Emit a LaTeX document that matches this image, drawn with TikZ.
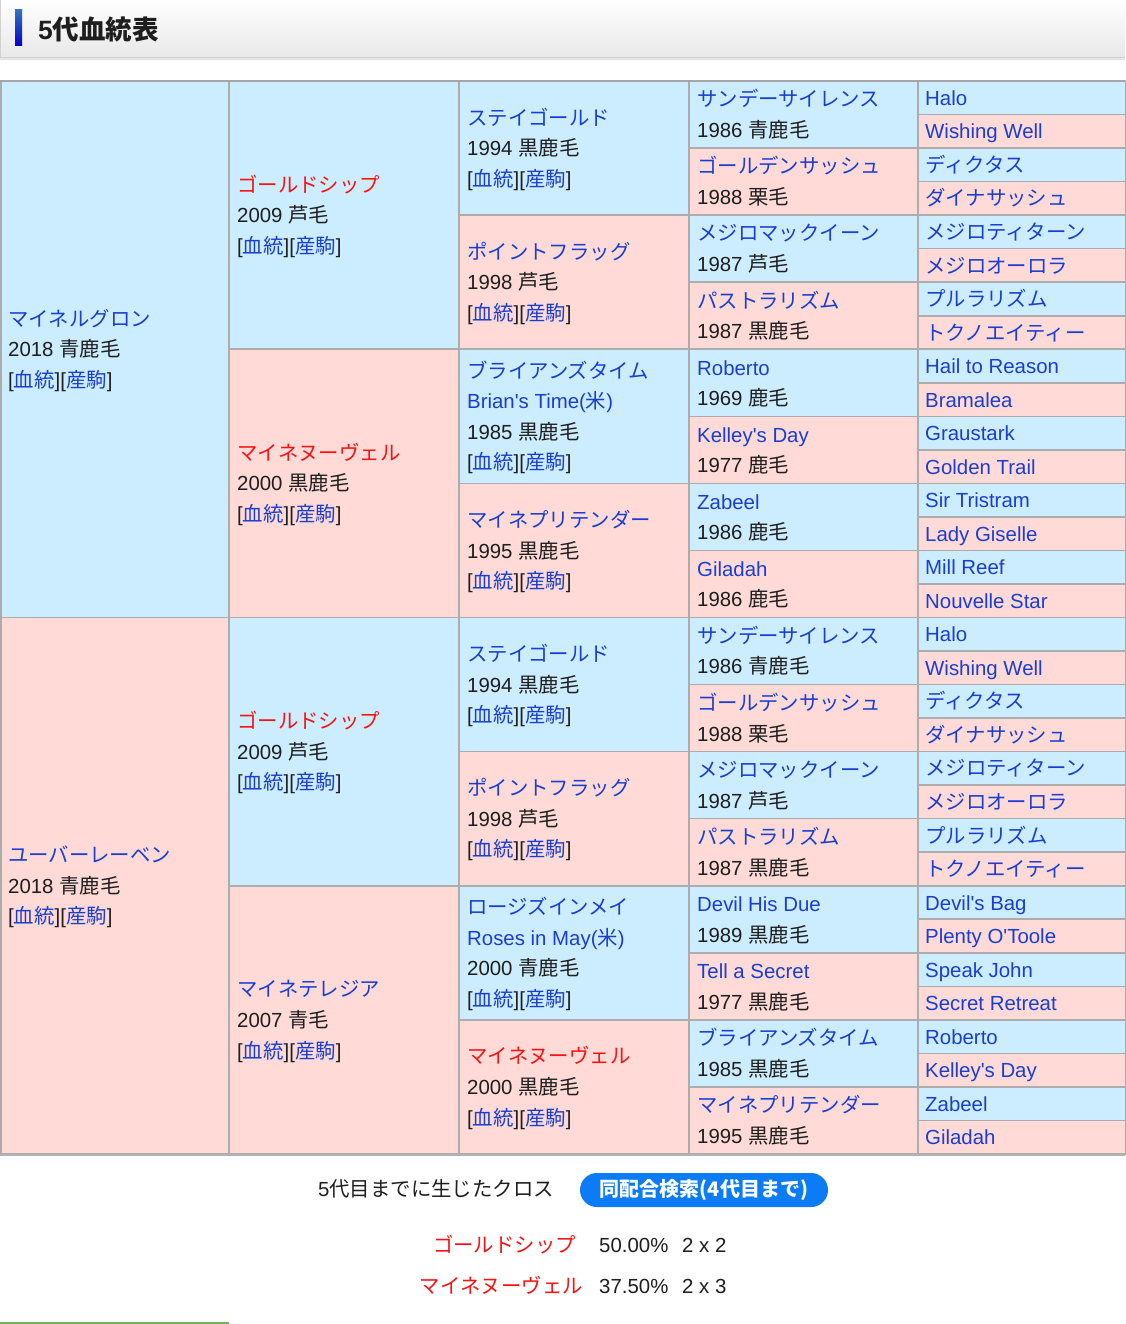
\documentclass[tikz,border=0pt]{standalone}
\usepackage{fontspec}
\setmainfont{Liberation Sans}[Ligatures=TeXOff]
\newfontfamily\jp{Noto Sans CJK JP}
\usetikzlibrary{calc}
\definecolor{cell0}{RGB}{204,237,255}
\definecolor{cell1}{RGB}{255,218,214}
\definecolor{bord}{RGB}{172,172,172}
\definecolor{lnk}{RGB}{26,62,210}
\definecolor{rd}{RGB}{250,18,18}
\definecolor{txtc}{RGB}{30,30,30}
\definecolor{btn}{RGB}{12,124,246}
\definecolor{grn}{RGB}{112,176,92}
\newcommand\nm[1]{\textcolor{lnk}{\jp #1}}
\newcommand\en[1]{\textcolor{lnk}{#1}}
\newcommand\rn[1]{\textcolor{rd}{\jp #1}}
\newcommand\yr[2]{#1 {\jp #2}}
\newcommand\links{[\textcolor{lnk}{\jp 血統}][\textcolor{lnk}{\jp 産駒}]}
\newcommand\horse[4]{%
  \pgfmathsetmacro\hh{1073/2^#1}%
  \pgfmathsetmacro\yc{81+(#2+0.5)*\hh}%
  \pgfmathsetmacro\hx{{8,237,467,697,925}[#1-1]}%
  \foreach \t [count=\i] in {#4}{%
    \node[txt,anchor=base west] (h#1-#2-\i) at (\hx,{\yc+(\i-(#3+1)/2)*30.6+7.6}) {\t};
  }%
}
\begin{document}
\begin{tikzpicture}[x=1pt,y=-1pt,
  txt/.style={inner sep=0pt,text=txtc,font=\fontsize{20.4}{24}\selectfont}]
\useasboundingbox (0,0) rectangle (1125,1324);
\fill[white] (0,0) rectangle (1125,1324);
% header
\shade[top color=white,bottom color=black!9] (0,-1) rectangle (1125,57);
\draw[black!18,line width=1] (0.5,-1) -- (0.5,57.5) -- (1125,57.5);
\draw[black!10,line width=2] (0,59.5) -- (1125,59.5);
\shade[top color=blue!55!cyan!70!black!80,bottom color=blue!80!black] (15,10) rectangle (22,46);
\node[txt,anchor=base west,font=\fontsize{26.5}{30}\selectfont\bfseries] (title) at (38,39.8) {5{\jp\bfseries 代血統表}};
% cells
\foreach \g/\xa/\xb in {1/0.8/229,2/229/459,3/459/689,4/689/918,5/918/1126}{
  \pgfmathsetmacro\hh{1073/2^\g}
  \pgfmathtruncatemacro\m{2^\g-1}
  \foreach \j in {0,...,\m}{
    \pgfmathtruncatemacro\odd{mod(\j,2)}
    \filldraw[fill=cell\odd,draw=bord,line width=1.6] (\xa,{81+\j*\hh}) rectangle (\xb,{81+(\j+1)*\hh});
  }
}
\draw[black!35,line width=2] (0,81) -- (1125,81);
\draw[black!30,line width=2] (0,1155) -- (1125,1155);
% generation 1
\horse{1}{0}{3}{\nm{マイネルグロン},\yr{2018}{青鹿毛},\links}
\horse{1}{1}{3}{\nm{ユーバーレーベン},\yr{2018}{青鹿毛},\links}
% generation 2
\horse{2}{0}{3}{\rn{ゴールドシップ},\yr{2009}{芦毛},\links}
\horse{2}{1}{3}{\rn{マイネヌーヴェル},\yr{2000}{黒鹿毛},\links}
\horse{2}{2}{3}{\rn{ゴールドシップ},\yr{2009}{芦毛},\links}
\horse{2}{3}{3}{\nm{マイネテレジア},\yr{2007}{青毛},\links}
% generation 3
\horse{3}{0}{3}{\nm{ステイゴールド},\yr{1994}{黒鹿毛},\links}
\horse{3}{1}{3}{\nm{ポイントフラッグ},\yr{1998}{芦毛},\links}
\horse{3}{2}{4}{\nm{ブライアンズタイム},\en{Brian's Time({\jp 米})},\yr{1985}{黒鹿毛},\links}
\horse{3}{3}{3}{\nm{マイネプリテンダー},\yr{1995}{黒鹿毛},\links}
\horse{3}{4}{3}{\nm{ステイゴールド},\yr{1994}{黒鹿毛},\links}
\horse{3}{5}{3}{\nm{ポイントフラッグ},\yr{1998}{芦毛},\links}
\horse{3}{6}{4}{\nm{ロージズインメイ},\en{Roses in May({\jp 米})},\yr{2000}{青鹿毛},\links}
\horse{3}{7}{3}{\rn{マイネヌーヴェル},\yr{2000}{黒鹿毛},\links}
% generation 4
\horse{4}{0}{2}{\nm{サンデーサイレンス},\yr{1986}{青鹿毛}}
\horse{4}{1}{2}{\nm{ゴールデンサッシュ},\yr{1988}{栗毛}}
\horse{4}{2}{2}{\nm{メジロマックイーン},\yr{1987}{芦毛}}
\horse{4}{3}{2}{\nm{パストラリズム},\yr{1987}{黒鹿毛}}
\horse{4}{4}{2}{\en{Roberto},\yr{1969}{鹿毛}}
\horse{4}{5}{2}{\en{Kelley's Day},\yr{1977}{鹿毛}}
\horse{4}{6}{2}{\en{Zabeel},\yr{1986}{鹿毛}}
\horse{4}{7}{2}{\en{Giladah},\yr{1986}{鹿毛}}
\horse{4}{8}{2}{\nm{サンデーサイレンス},\yr{1986}{青鹿毛}}
\horse{4}{9}{2}{\nm{ゴールデンサッシュ},\yr{1988}{栗毛}}
\horse{4}{10}{2}{\nm{メジロマックイーン},\yr{1987}{芦毛}}
\horse{4}{11}{2}{\nm{パストラリズム},\yr{1987}{黒鹿毛}}
\horse{4}{12}{2}{\en{Devil His Due},\yr{1989}{黒鹿毛}}
\horse{4}{13}{2}{\en{Tell a Secret},\yr{1977}{黒鹿毛}}
\horse{4}{14}{2}{\nm{ブライアンズタイム},\yr{1985}{黒鹿毛}}
\horse{4}{15}{2}{\nm{マイネプリテンダー},\yr{1995}{黒鹿毛}}
% generation 5
\horse{5}{0}{1}{\en{Halo}}
\horse{5}{1}{1}{\en{Wishing Well}}
\horse{5}{2}{1}{\nm{ディクタス}}
\horse{5}{3}{1}{\nm{ダイナサッシュ}}
\horse{5}{4}{1}{\nm{メジロティターン}}
\horse{5}{5}{1}{\nm{メジロオーロラ}}
\horse{5}{6}{1}{\nm{プルラリズム}}
\horse{5}{7}{1}{\nm{トクノエイティー}}
\horse{5}{8}{1}{\en{Hail to Reason}}
\horse{5}{9}{1}{\en{Bramalea}}
\horse{5}{10}{1}{\en{Graustark}}
\horse{5}{11}{1}{\en{Golden Trail}}
\horse{5}{12}{1}{\en{Sir Tristram}}
\horse{5}{13}{1}{\en{Lady Giselle}}
\horse{5}{14}{1}{\en{Mill Reef}}
\horse{5}{15}{1}{\en{Nouvelle Star}}
\horse{5}{16}{1}{\en{Halo}}
\horse{5}{17}{1}{\en{Wishing Well}}
\horse{5}{18}{1}{\nm{ディクタス}}
\horse{5}{19}{1}{\nm{ダイナサッシュ}}
\horse{5}{20}{1}{\nm{メジロティターン}}
\horse{5}{21}{1}{\nm{メジロオーロラ}}
\horse{5}{22}{1}{\nm{プルラリズム}}
\horse{5}{23}{1}{\nm{トクノエイティー}}
\horse{5}{24}{1}{\en{Devil's Bag}}
\horse{5}{25}{1}{\en{Plenty O'Toole}}
\horse{5}{26}{1}{\en{Speak John}}
\horse{5}{27}{1}{\en{Secret Retreat}}
\horse{5}{28}{1}{\en{Roberto}}
\horse{5}{29}{1}{\en{Kelley's Day}}
\horse{5}{30}{1}{\en{Zabeel}}
\horse{5}{31}{1}{\en{Giladah}}
% crosses
\node[txt,anchor=base west] (crosshead) at (318,1196.6) {5{\jp 代目までに生じたクロス}};
\node[fill=btn,rounded corners=17,minimum width=248,minimum height=34,inner sep=0pt,
  text=white,font=\fontsize{20}{24}\selectfont] (button) at (704,1190) {\jp\bfseries 同配合検索(4代目まで)};
\node[txt,anchor=base east] (c1n) at (576,1252.6) {\rn{ゴールドシップ}};
\node[txt,anchor=base west] (c1p) at (599,1252.6) {50.00\%};
\node[txt,anchor=base west] (c1g) at (682,1252.6) {2 x 2};
\node[txt,anchor=base east] (c2n) at (583,1293.6) {\rn{マイネヌーヴェル}};
\node[txt,anchor=base west] (c2p) at (599,1293.6) {37.50\%};
\node[txt,anchor=base west] (c2g) at (682,1293.6) {2 x 3};
\draw[grn,line width=2.5] (0,1323.5) -- (229,1323.5);
\end{tikzpicture}
\end{document}
